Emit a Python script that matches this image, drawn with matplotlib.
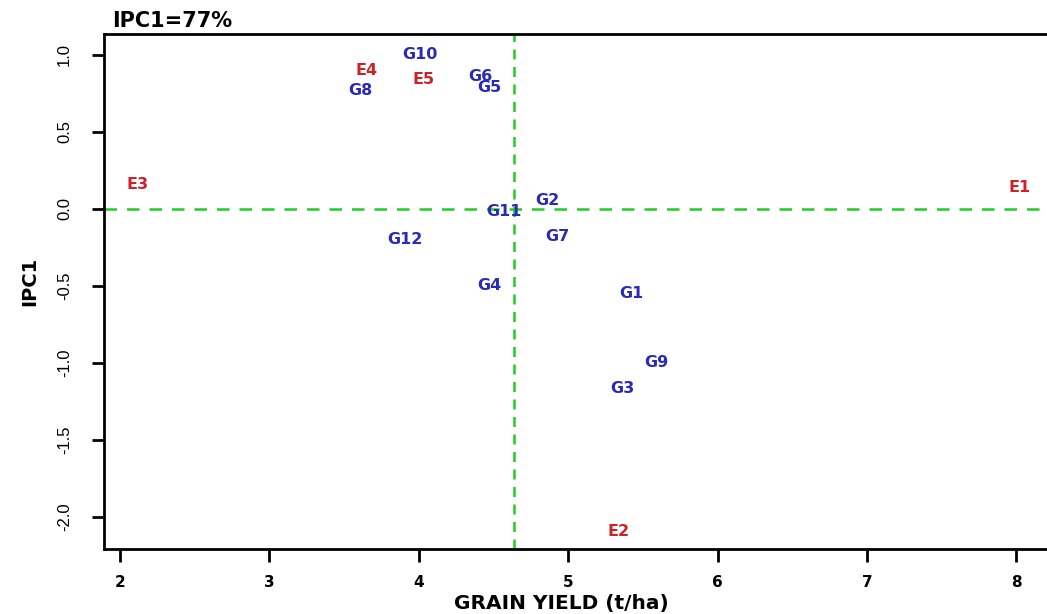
import matplotlib
matplotlib.use("Agg")
import matplotlib.pyplot as plt

plt.rcParams['font.family'] = ['DejaVu Sans']

# environments (red) and genotypes (blue): mean yield, IPC1 score
env_names = ['E1', 'E2', 'E3', 'E4', 'E5']
env_yield = [8.02, 5.34, 2.12, 3.65, 4.03]
env_ipc1 = [0.14, -2.10, 0.16, 0.90, 0.84]

gen_names = ['G1', 'G2', 'G3', 'G4', 'G5', 'G6', 'G7', 'G8', 'G9', 'G10', 'G11', 'G12']
gen_yield = [5.42, 4.86, 5.36, 4.47, 4.47, 4.41, 4.93, 3.61, 5.59, 4.01, 4.57, 3.91]
gen_ipc1 = [-0.55, 0.05, -1.17, -0.50, 0.79, 0.86, -0.18, 0.77, -1.00, 1.00, -0.02, -0.20]

grand_mean = 4.64

fig = plt.figure(figsize=(10.47, 6.14), dpi=100)
ax = fig.add_axes([0.0993, 0.106, 0.91, 0.839])

for n, x, y in zip(env_names, env_yield, env_ipc1):
    ax.text(x, y, n, color='#cc2228', fontsize=11.5, fontweight='bold', ha='center', va='center')
for n, x, y in zip(gen_names, gen_yield, gen_ipc1):
    ax.text(x, y, n, color='#2a2ab8', fontsize=11.5, fontweight='bold', ha='center', va='center')

ax.axhline(0, color='#22cc22', lw=1.8, ls=(0, (5, 4)))
ax.axvline(grand_mean, color='#22cc22', lw=1.8, ls=(0, (4, 3)))

ax.set_xlim(1.893, 8.27)
ax.set_ylim(-2.21, 1.136)
ax.set_xticks([2, 3, 4, 5, 6, 7, 8])
ax.set_yticks([1.0, 0.5, 0.0, -0.5, -1.0, -1.5, -2.0])
ax.set_yticklabels(['1.0', '0.5', '0.0', '-0.5', '-1.0', '-1.5', '-2.0'],
                   rotation=90, va='center')
ax.tick_params(length=9, width=2, labelsize=11)
ax.tick_params(axis='x', pad=10)
ax.tick_params(axis='y', pad=14)
for lab in ax.get_xticklabels():
    lab.set_fontweight('bold')
for lab in ax.get_yticklabels():
    lab.set_fontfamily('Liberation Sans')
    lab.set_fontsize(12)
for s in ax.spines.values():
    s.set_linewidth(2)
ax.spines['right'].set_visible(False)

ax.set_xlabel('GRAIN YIELD (t/ha)', fontsize=14.5, fontweight='bold', va='center')
ax.xaxis.set_label_coords(0.48, -0.105)
ax.set_ylabel('IPC1', fontsize=14, fontweight='bold', va='center')
ax.yaxis.set_label_coords(-0.078, 0.52)
fig.text(0.107, 0.965, 'IPC1=77%', fontsize=15, fontweight='bold', ha='left', va='center')

fig.savefig('out.png', dpi=100)
